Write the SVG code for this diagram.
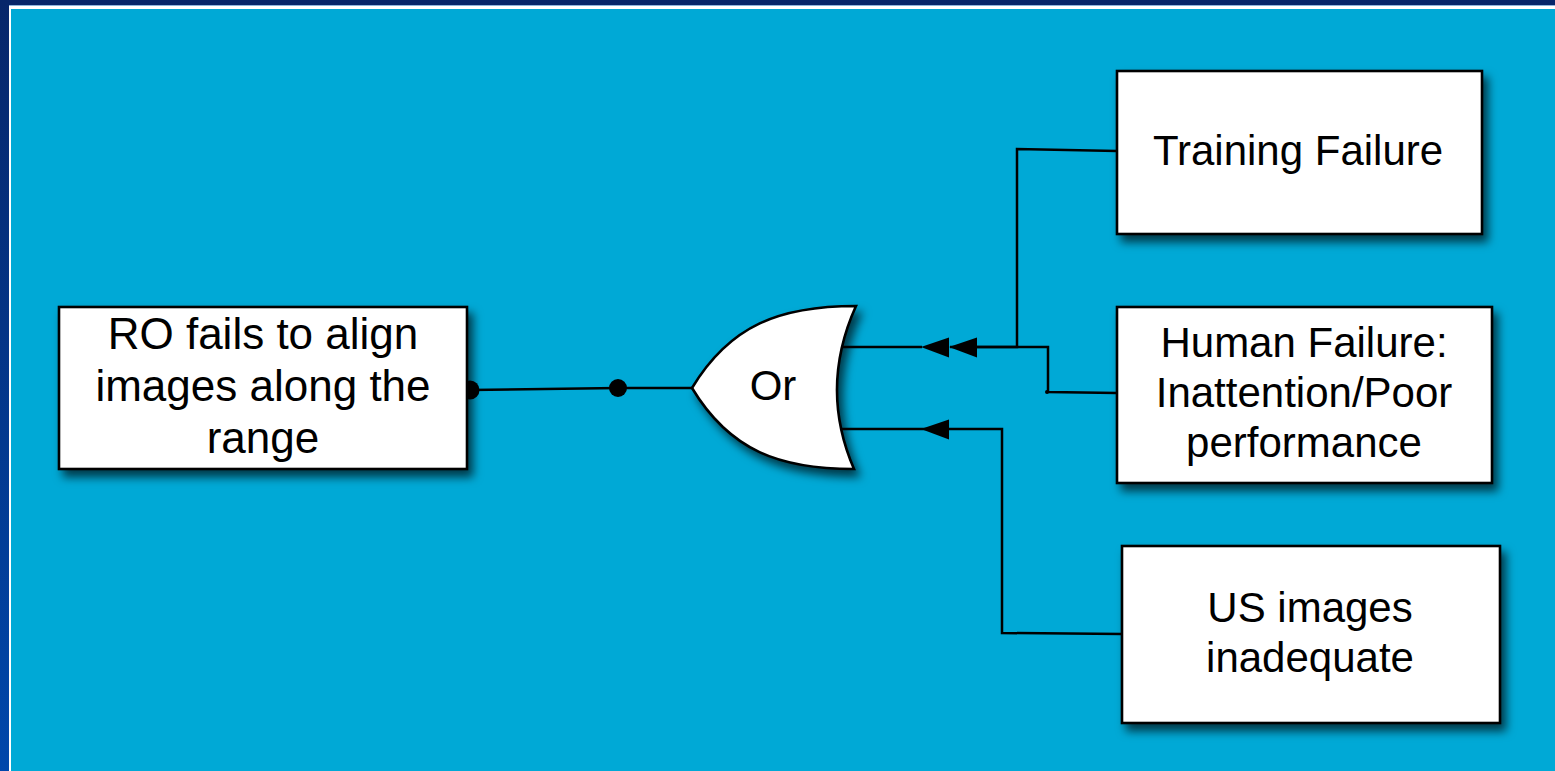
<svg xmlns="http://www.w3.org/2000/svg" width="1555" height="771" viewBox="0 0 1555 771">
  <defs>
    <linearGradient id="frameGrad" x1="0" y1="0" x2="0" y2="1">
      <stop offset="0" stop-color="#07266a"/>
      <stop offset="1" stop-color="#0047ab"/>
    </linearGradient>
    <filter id="shadow" x="-10%" y="-10%" width="130%" height="140%">
      <feDropShadow dx="5" dy="7" stdDeviation="5" flood-color="#000" flood-opacity="0.65"/>
    </filter>
  </defs>
  <style>
    .box { fill: #fff; stroke: #000; stroke-width: 2.6; filter: url(#shadow); }
    .label { font-family: "Liberation Sans", Arial, sans-serif; fill: #000; text-anchor: middle; }
    .wire { fill: none; stroke: #000; stroke-width: 2.5; stroke-linejoin: miter; }
    .head { fill: #000; }
    .dot { fill: #000; }
  </style>

  <!-- slide frame -->
  <rect x="0" y="0" width="1555" height="771" fill="url(#frameGrad)"/>
  <rect x="9" y="5" width="1546" height="766" fill="#8fb4dc"/>
  <rect x="9" y="6" width="1546" height="765" fill="#ffffff"/>
  <rect x="11" y="9" width="1544" height="762" fill="#00a9d6"/>

  <!-- connectors -->
  <g id="connectors">
    <!-- top event to gate output -->
    <path class="wire" d="M470,390 L618,388 L692,388"/>
    <circle class="dot" cx="470" cy="390" r="9.5"/>
    <circle class="dot" cx="618" cy="388" r="9"/>
    <!-- Training Failure into upper gate input -->
    <path class="wire" d="M1117,151 L1017,149 L1017,347 L950,347"/>
    <path class="head" d="M949,347 L977,337.5 L977,357.5 Z"/>
    <!-- Human Failure into upper gate input -->
    <path class="wire" d="M1117,393 L1048,392 L1048,347 L977,347"/>
    <path class="wire" d="M922,347 L842,347"/>
    <path class="head" d="M921,347 L949,337.5 L949,357.5 Z"/>
    <circle class="dot" cx="1047" cy="392" r="2"/>
    <!-- US images into lower gate input -->
    <path class="wire" d="M1122,634 L1002,633 L1002,429 L922,429 L841,429"/>
    <path class="head" d="M921,429 L949,419.5 L949,439.5 Z"/>
  </g>

  <!-- top event -->
  <g id="node-top-event">
    <rect class="box" x="59" y="307" width="408" height="162"/>
    <text class="label" font-size="44" x="263" y="349">RO fails to align</text>
    <text class="label" font-size="44" x="263" y="401">images along the</text>
    <text class="label" font-size="44" x="263" y="453">range</text>
  </g>

  <!-- OR gate -->
  <g id="node-or-gate">
    <path d="M692,388 C730,325 780,306 856,306 Q819,388 854,469 C780,469 730,451 692,388 Z" fill="#fff" stroke="#000" stroke-width="2.6" filter="url(#shadow)"/>
    <text class="label" font-size="42" x="773" y="400">Or</text>
  </g>

  <!-- basic events -->
  <g id="node-training-failure">
    <rect class="box" x="1117" y="71" width="365" height="163"/>
    <text class="label" font-size="42" x="1298" y="165">Training Failure</text>
  </g>

  <g id="node-human-failure">
    <rect class="box" x="1117" y="307" width="375" height="176"/>
    <text class="label" font-size="42" x="1304" y="357">Human Failure:</text>
    <text class="label" font-size="42" x="1304" y="407">Inattention/Poor</text>
    <text class="label" font-size="42" x="1304" y="457">performance</text>
  </g>

  <g id="node-us-images">
    <rect class="box" x="1122" y="546" width="378" height="177"/>
    <text class="label" font-size="42" x="1310" y="622">US images</text>
    <text class="label" font-size="42" x="1310" y="672">inadequate</text>
  </g>
</svg>
